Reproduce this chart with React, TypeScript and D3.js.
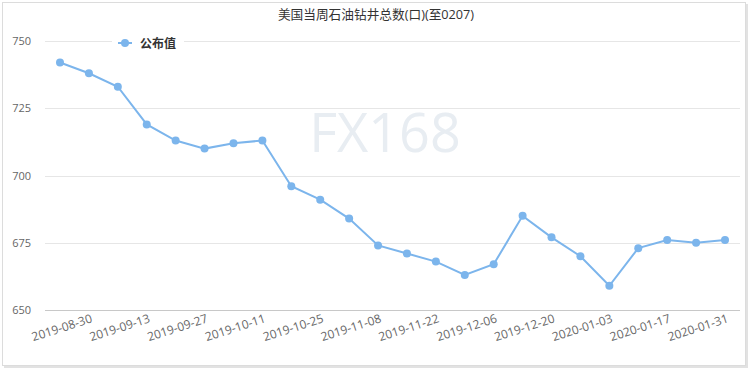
import { useEffect, useRef } from "react";
import * as d3 from "d3";

const dates = [
  "2019-08-23", "2019-08-30", "2019-09-06", "2019-09-13", "2019-09-20", "2019-09-27",
  "2019-10-04", "2019-10-11", "2019-10-18", "2019-10-25", "2019-11-01", "2019-11-08",
  "2019-11-15", "2019-11-22", "2019-11-29", "2019-12-06", "2019-12-13", "2019-12-20",
  "2019-12-27", "2020-01-03", "2020-01-10", "2020-01-17", "2020-01-24", "2020-01-31",
];
const values = [
  742, 738, 733, 719, 713, 710, 712, 713, 696, 691, 684, 674,
  671, 668, 663, 667, 685, 677, 670, 659, 673, 676, 675, 676,
];
const yTicks = [650, 675, 700, 725, 750];
const title = "美国当周石油钻井总数(口)(至0207)";
const seriesName = "公布值";

const W = 750;
const H = 370;
const color = "#7cb5ec";
const font = "'Open Sans', 'Noto Sans CJK SC', sans-serif";

export default function App() {
  const ref = useRef<SVGSVGElement | null>(null);

  useEffect(() => {
    if (!ref.current) return;
    const svg = d3.select(ref.current);
    svg.selectAll("*").remove();

    // frame
    svg.append("rect").attr("x", 4).attr("y", 4).attr("width", W - 6).attr("height", H - 6)
      .attr("fill", "#e2e2e2");
    svg.append("rect").attr("x", 2.5).attr("y", 2.5).attr("width", W - 7).attr("height", H - 7)
      .attr("fill", "#fff").attr("stroke", "#dcdcdc");

    const x = d3.scalePoint<string>().domain(dates).range([60, 725]);
    const y = d3.scaleLinear().domain([650, 750]).range([310, 41]);

    // watermark
    svg.append("text").attr("x", 385).attr("y", 152).attr("text-anchor", "middle")
      .attr("font-family", "'Open Sans', sans-serif").attr("font-size", 54)
      .attr("fill", "#e8edf2").text("FX168");

    // grid + y labels
    const g = svg.append("g");
    g.selectAll("line.grid").data(yTicks).enter().append("line")
      .attr("x1", 45).attr("x2", 740)
      .attr("y1", (d) => Math.round(y(d)) + 0.5).attr("y2", (d) => Math.round(y(d)) + 0.5)
      .attr("stroke", (d) => (d === 650 ? "#c8c8c8" : "#e6e6e6"));
    g.selectAll("text.yl").data(yTicks).enter().append("text")
      .attr("x", 31).attr("y", (d) => y(d) + 4).attr("text-anchor", "end")
      .attr("font-family", font).attr("font-size", 11).attr("fill", "#666")
      .text((d) => d);

    // x labels
    dates.forEach((d, i) => {
      if (i % 2 !== 1) return;
      const px = x(d)! + 4;
      svg.append("text").attr("transform", `translate(${px},322) rotate(-18)`)
        .attr("text-anchor", "end").attr("font-family", font).attr("font-size", 12)
        .attr("fill", "#666").text(d);
    });

    // title
    svg.append("text").attr("x", 376).attr("y", 19).attr("text-anchor", "middle")
      .attr("font-family", font).attr("font-size", 12.7).attr("fill", "#333").text(title);

    // line
    const line = d3.line<number>().x((_, i) => x(dates[i])!).y((d) => y(d));
    svg.append("path").datum(values).attr("d", line).attr("fill", "none")
      .attr("stroke", color).attr("stroke-width", 2);
    svg.selectAll("circle.pt").data(values).enter().append("circle")
      .attr("cx", (_, i) => x(dates[i])!).attr("cy", (d) => y(d)).attr("r", 4)
      .attr("fill", color);

    // legend
    const lg = svg.append("g");
    lg.append("rect").attr("x", 112).attr("y", 34).attr("width", 72).attr("height", 18).attr("fill", "#fff");
    lg.append("line").attr("x1", 118).attr("x2", 132).attr("y1", 43).attr("y2", 43)
      .attr("stroke", color).attr("stroke-width", 2);
    lg.append("circle").attr("cx", 125).attr("cy", 43).attr("r", 4).attr("fill", color);
    lg.append("text").attr("x", 140).attr("y", 47.5).attr("font-family", font)
      .attr("font-size", 12).attr("font-weight", "bold").attr("fill", "#333").text(seriesName);
  }, []);

  return (
    <svg ref={ref} width={W} height={H} style={{ position: "absolute", left: 0, top: 0 }} />
  );
}
